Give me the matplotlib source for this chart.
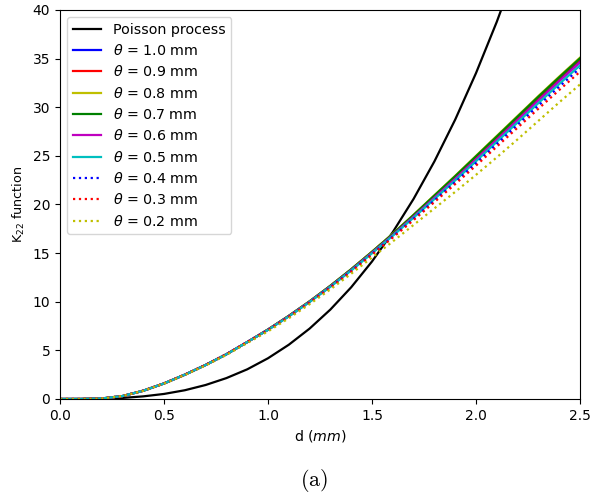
import matplotlib
matplotlib.use("Agg")
import matplotlib.pyplot as plt

d = [0.0, 0.1, 0.2, 0.3, 0.4, 0.5, 0.6, 0.7, 0.8, 0.9, 1.0, 1.1, 1.2, 1.3,
     1.4, 1.5, 1.6, 1.7, 1.8, 1.9, 2.0, 2.1, 2.2, 2.3, 2.4, 2.5]

d_poisson = [0.0, 0.1, 0.2, 0.3, 0.4, 0.5, 0.6, 0.7, 0.8, 0.9, 1.0, 1.1, 1.2,
             1.3, 1.4, 1.5, 1.6, 1.7, 1.8, 1.9, 2.0, 2.1, 2.2]
k_poisson = [0.0, 0.004, 0.034, 0.11, 0.27, 0.52, 0.9, 1.44, 2.15, 3.05, 4.19,
             5.58, 7.24, 9.2, 11.49, 14.14, 17.16, 20.58, 24.43, 28.73, 33.51,
             38.79, 44.6]

low = [0.0, 0.0, 0.05, 0.3, 0.85, 1.6, 2.5, 3.5, 4.6, 5.85]

k_10 = low + [7.13, 8.53, 10.02, 11.62, 13.31, 15.1, 16.93, 18.86, 20.83, 22.81,
              24.83, 26.86, 28.9, 30.93, 32.92, 34.85]
k_09 = low + [7.14, 8.54, 10.03, 11.63, 13.32, 15.12, 16.96, 18.89, 20.88, 22.86,
              24.9, 26.94, 28.98, 31.02, 33.01, 34.95]
k_08 = low + [7.15, 8.55, 10.05, 11.65, 13.35, 15.15, 17.0, 18.95, 20.95, 22.95,
              25.0, 27.05, 29.1, 31.15, 33.15, 35.1]
k_07 = low + [7.15, 8.55, 10.04, 11.64, 13.34, 15.13, 16.98, 18.92, 20.92, 22.91,
              24.95, 26.99, 29.04, 31.09, 33.08, 35.03]
k_06 = low + [7.12, 8.51, 10.0, 11.58, 13.26, 15.05, 16.86, 18.76, 20.7, 22.65,
              24.65, 26.66, 28.68, 30.69, 32.67, 34.59]
k_05 = low + [7.1, 8.48, 9.97, 11.54, 13.21, 14.98, 16.78, 18.65, 20.56, 22.48,
              24.45, 26.45, 28.44, 30.43, 32.39, 34.3]
k_04 = low + [7.08, 8.46, 9.94, 11.5, 13.16, 14.92, 16.7, 18.54, 20.42, 22.31,
              24.25, 26.22, 28.2, 30.17, 32.11, 34.01]
k_03 = low + [7.05, 8.43, 9.9, 11.45, 13.1, 14.85, 16.6, 18.4, 20.25, 22.1,
              24.0, 25.95, 27.9, 29.85, 31.77, 33.65]
k_02 = [0.0, 0.0, 0.05, 0.3, 0.84, 1.58, 2.47, 3.45, 4.53, 5.75,
        6.95, 8.3, 9.75, 11.27, 12.88, 14.55, 16.2, 17.9, 19.6, 21.3,
        23.05, 24.85, 26.7, 28.6, 30.5, 32.35]

thetas = ["1.0", "0.9", "0.8", "0.7", "0.6", "0.5", "0.4", "0.3", "0.2"]
series = [k_10, k_09, k_08, k_07, k_06, k_05, k_04, k_03, k_02]
colors = ["b", "r", "y", "g", "m", "c", "b", "r", "y"]
styles = ["-", "-", "-", "-", "-", "-", ":", ":", ":"]

fig = plt.figure(figsize=(5.92, 4.99), dpi=100)
ax = fig.add_axes([60 / 592, 1 - 399 / 499, 520 / 592, 389 / 499])

ax.plot(d_poisson, k_poisson, color="k", lw=1.6, label="Poisson process")
for th, k, c, ls in zip(thetas, series, colors, styles):
    ax.plot(d, k, color=c, ls=ls, lw=1.6, label=r"$\theta$ = " + th + " mm")

ax.set_xlim(0, 2.5)
ax.set_ylim(0, 40)
ax.set_xticks([0.0, 0.5, 1.0, 1.5, 2.0, 2.5])
ax.set_yticks([0, 5, 10, 15, 20, 25, 30, 35, 40])
ax.tick_params(labelsize=10)
ax.set_xlabel(r"d ($mm$)", fontsize=10.2)
ax.set_ylabel(r"K$_{22}$ function", fontsize=9.2)
ax.legend(loc="upper left", fontsize=10.3, labelspacing=0.44)

fig.text(314 / 592, 1 - 480 / 499, r"$\mathrm{(a)}$", ha="center", va="center",
         fontsize=16, math_fontfamily="cm")

fig.savefig("out.png", dpi=100)
